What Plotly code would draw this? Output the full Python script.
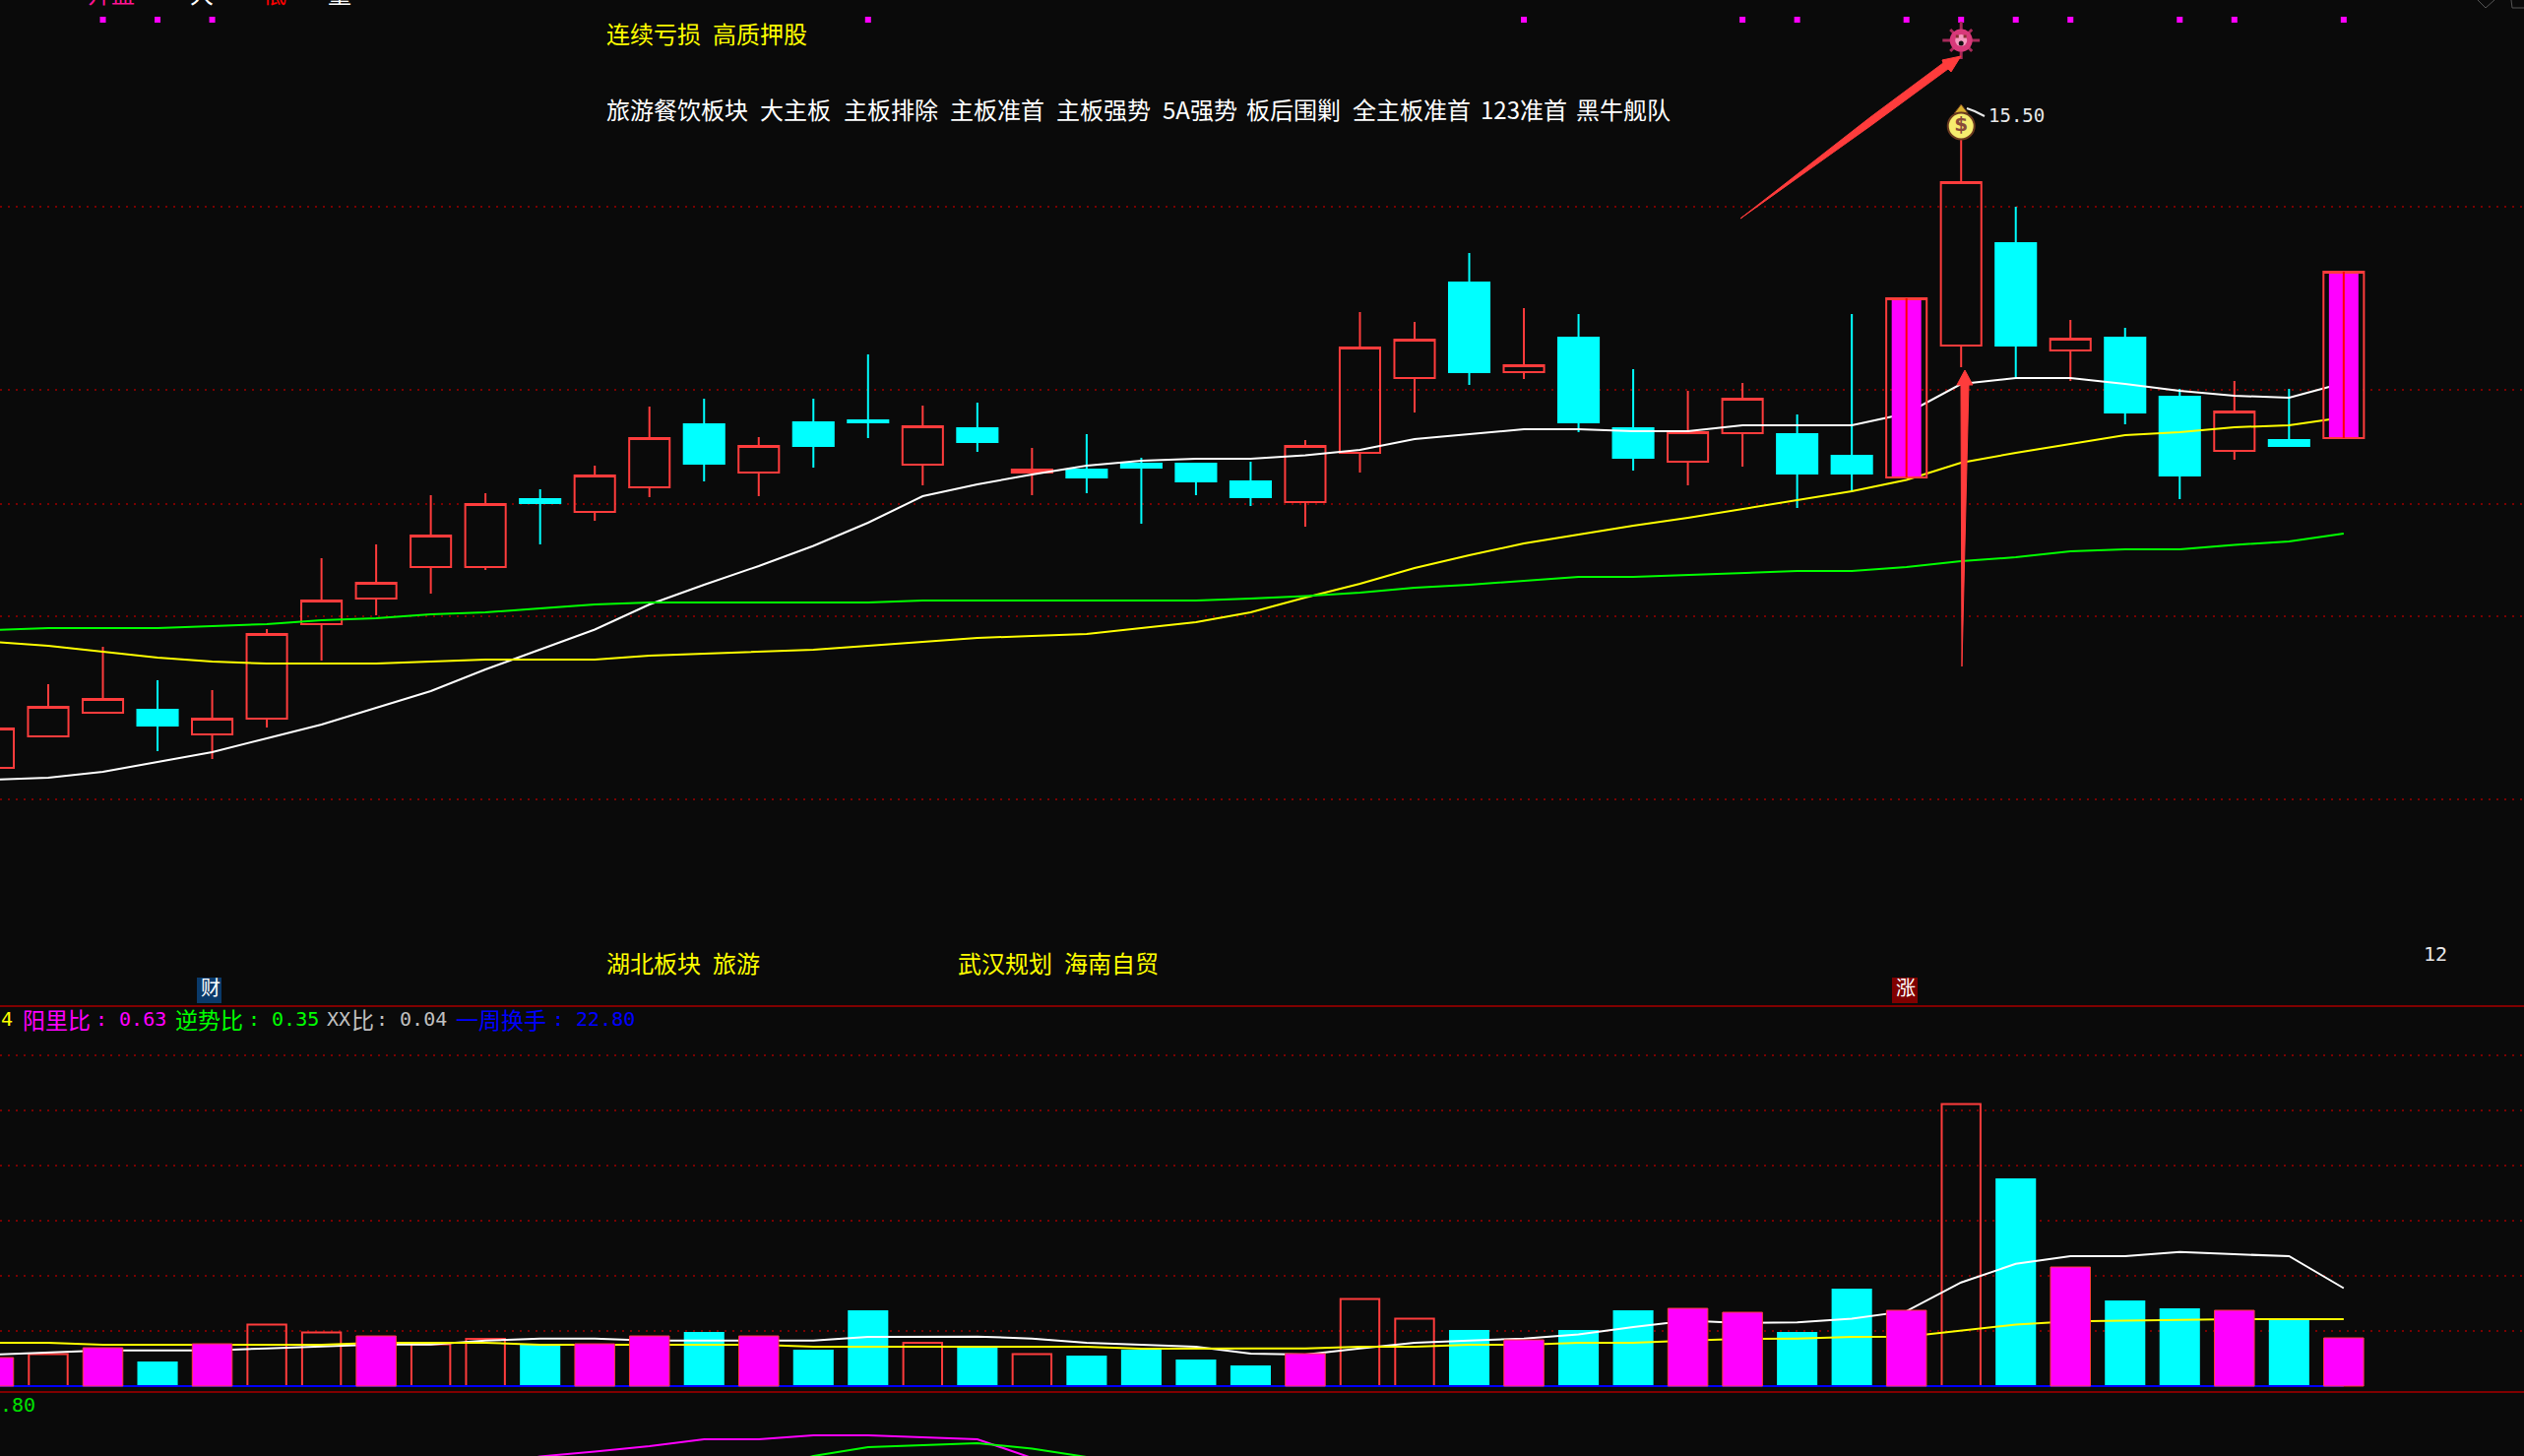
import plotly.graph_objects as go

W, H = 2564, 1479

# ---- data ----
days = list(range(-1, 43))
opens = [9.10,9.42,9.66,9.69,9.44,9.60,10.56,10.82,11.14,11.14,11.83,11.70,11.95,12.59,12.10,12.61,12.63,12.18,12.55,12.10,12.13,12.19,12.19,12.01,11.80,12.30,13.06,14.03,13.12,13.47,12.55,12.21,12.50,12.49,12.27,12.05,13.39,14.43,13.34,13.47,12.87,12.32,12.43,12.45]
highs = [9.50,9.95,10.33,9.99,9.89,10.51,11.23,11.37,11.87,11.89,11.93,12.17,12.77,12.85,12.46,12.85,13.30,12.78,12.81,12.35,12.49,12.25,12.19,12.21,12.43,13.73,13.63,14.33,13.77,13.71,13.15,12.93,13.01,12.69,13.71,13.87,15.50,14.80,13.65,13.57,12.95,13.03,12.95,14.14]
lows = [9.10,9.42,9.66,9.27,9.19,9.51,10.19,10.65,10.87,11.11,11.37,11.61,11.85,12.01,11.86,12.15,12.45,11.97,12.31,11.87,11.89,11.58,11.87,11.76,11.55,12.10,12.71,12.99,13.05,12.51,12.12,11.97,12.16,11.74,11.90,12.05,13.17,13.07,13.03,12.59,11.83,12.23,12.37,12.45]
closes = [9.50,9.72,9.80,9.53,9.60,10.46,10.80,10.98,11.46,11.78,11.79,12.07,12.45,12.19,12.37,12.37,12.61,12.57,12.41,12.13,12.05,12.15,12.01,11.85,12.37,13.37,13.45,13.12,13.19,12.61,12.25,12.51,12.85,12.09,12.09,13.87,15.05,13.39,13.46,12.71,12.07,12.72,12.37,14.14]
limit_up_days = [34, 42]

ma_white = [8.98,9.00,9.06,9.16,9.26,9.40,9.54,9.71,9.88,10.10,10.30,10.505,10.76,10.96,11.15,11.355,11.59,11.86,11.98,12.08,12.17,12.22,12.24,12.24,12.275,12.33,12.44,12.49,12.54,12.54,12.52,12.52,12.58,12.58,12.58,12.70,13.00,13.06,13.06,13.00,12.93,12.88,12.86,13.01]
ma_yellow = [10.38,10.34,10.28,10.22,10.18,10.16,10.16,10.16,10.18,10.20,10.20,10.20,10.24,10.26,10.28,10.30,10.34,10.38,10.42,10.44,10.46,10.52,10.58,10.68,10.83,10.97,11.13,11.26,11.38,11.47,11.56,11.64,11.73,11.82,11.91,12.025,12.20,12.30,12.39,12.48,12.51,12.56,12.58,12.66]
ma_green = [10.50,10.52,10.52,10.52,10.54,10.56,10.60,10.62,10.66,10.68,10.72,10.76,10.78,10.78,10.78,10.78,10.78,10.80,10.80,10.80,10.80,10.80,10.80,10.82,10.845,10.88,10.93,10.96,11.00,11.04,11.04,11.06,11.08,11.10,11.10,11.14,11.20,11.24,11.30,11.32,11.32,11.365,11.40,11.48]

volume = [2.9,3.25,3.9,2.5,4.3,6.24,5.45,5.1,4.24,4.8,4.2,4.3,5.1,5.5,5.1,3.7,7.7,4.4,4.0,3.25,3.1,3.7,2.7,2.1,3.3,8.85,6.85,5.7,4.7,5.7,7.7,7.9,7.5,5.5,9.9,7.7,28.65,21.1,12.1,8.7,7.9,7.7,6.8,4.9]
volume_style = ["m","h","m","c","m","h","h","m","h","h","c","m","m","c","m","c","c","h","c","h","c","c","c","c","m","h","h","c","m","c","c","m","m","c","c","m","h","c","m","c","c","m","c","m"]
vol_white = [3.21,3.42,3.62,3.62,3.62,3.83,4.02,4.23,4.23,4.62,4.83,4.83,4.62,4.62,4.62,4.62,5.0,5.03,5.03,4.83,4.41,4.21,4.00,3.3,3.2,3.83,4.41,4.62,4.83,5.24,6.0,6.65,6.41,6.48,6.85,7.61,10.53,12.42,13.21,13.21,13.63,13.39,13.21,9.95]
vol_yellow = [4.41,4.41,4.21,4.21,4.21,4.21,4.21,4.41,4.41,4.41,4.21,4.21,4.21,4.21,4.21,4.00,4.00,4.00,4.00,4.00,4.00,3.80,3.80,3.80,3.83,4.00,4.00,4.21,4.21,4.41,4.41,4.62,4.79,4.83,4.99,5.03,5.62,6.24,6.58,6.65,6.79,6.79,6.79,6.79]

low_days_magenta = [8,9,10,11,12,13,14,15,16,17,18]
low_magenta = [-10,-0.5,4.6,10,17,17,21,21,19,17,-2]
low_days_green = [13,14,15,16,17,18,19]
low_green = [-15,0,9,11,13,7.5,-1]

signal_days = [1,2,3,15,27,31,32,34,35,36,37,39,40,42]
grid_main = [14.80,12.94,11.78,10.64,8.78]
grid_vol = [5.6,11.2,16.8,22.4,28.0,33.6]

BG = "#0a0a0a"
RED = "#ff3c3c"
CYAN = "#00ffff"
MAGENTA = "#ff00ff"
GRID = "#7a0000"


def fx(px):
    return px / W


def fy(py):
    return 1 - py / H


X_RANGE = [(0 - 49) / 55.52, (W - 49) / 55.52]


def pick(a, idx):
    return [a[i] for i in idx]


def only(a, keep):
    return [v if d in keep else None for d, v in zip(days, a)]


fig = go.Figure()

normal_days = [d for d in days if d not in limit_up_days]
limit = [i for i, d in enumerate(days) if d in limit_up_days]

fig.add_trace(go.Candlestick(
    x=days, open=only(opens, normal_days), high=only(highs, normal_days),
    low=only(lows, normal_days), close=only(closes, normal_days),
    increasing=dict(line=dict(color=RED, width=2), fillcolor="rgba(0,0,0,0)"),
    decreasing=dict(line=dict(color=CYAN, width=2), fillcolor=CYAN),
    whiskerwidth=0, xaxis="x", yaxis="y", showlegend=False))
for arr, col in ((ma_white, "#ffffff"), (ma_yellow, "#ffff00"), (ma_green, "#00ff00")):
    fig.add_trace(go.Scatter(x=days, y=arr, mode="lines", line=dict(color=col, width=2), xaxis="x", yaxis="y", showlegend=False))

# limit-up candles sit above the lines, on an overlaid axis
fig.add_trace(go.Bar(x=pick(days, limit), y=[closes[i] - opens[i] for i in limit], base=pick(opens, limit),
                     width=0.54, marker=dict(color=MAGENTA, line=dict(width=0)), xaxis="x4", yaxis="y4", showlegend=False))
fig.add_trace(go.Candlestick(
    x=days, open=only(opens, limit_up_days), high=only(highs, limit_up_days),
    low=only(lows, limit_up_days), close=only(closes, limit_up_days),
    increasing=dict(line=dict(color=RED, width=2), fillcolor="rgba(0,0,0,0)"),
    decreasing=dict(line=dict(color=RED, width=2), fillcolor="rgba(0,0,0,0)"),
    whiskerwidth=0, xaxis="x4", yaxis="y4", showlegend=False))
stem_x, stem_y = [], []
for i in limit:
    stem_x += [days[i], days[i], None]
    stem_y += [opens[i], closes[i], None]
fig.add_trace(go.Scatter(x=stem_x, y=stem_y, mode="lines", line=dict(color="#ff0000", width=2),
                         xaxis="x4", yaxis="y4", showlegend=False))

# signal squares at the top of the pane
fig.add_trace(go.Scatter(x=signal_days, y=[16.70] * len(signal_days), mode="markers",
                         marker=dict(symbol="square", size=6, color=MAGENTA, line=dict(width=0)),
                         xaxis="x", yaxis="y", showlegend=False))

# icons above the tallest candle
def icon(y, symbol, size, color, line_color=None, line_w=0, dx=0.0):
    fig.add_trace(go.Scatter(x=[35 + dx], y=[y], mode="markers",
                             marker=dict(symbol=symbol, size=size, color=color,
                                         line=dict(width=line_w, color=line_color or color)),
                             xaxis="x4", yaxis="y4", showlegend=False))


icon(16.49, "cross-thin", 27, "#a82a5a", "#a82a5a", 3)
icon(16.49, "x-thin", 22, "#a82a5a", "#a82a5a", 3)
icon(16.49, "circle", 23, "#d8397a")
icon(16.49, "circle", 12, "#f59ac0")
icon(16.46, "circle", 5, "#101010")
icon(16.53, "square", 3, "#8a3030", dx=-0.07)
icon(16.53, "square", 3, "#8a3030", dx=0.07)
icon(15.78, "triangle-up", 12, "#d8b030", "#6b3a20", 1)
fig.add_trace(go.Scatter(x=[35], y=[15.62], mode="markers+text", text=["<b>$</b>"], textposition="middle center",
                         textfont=dict(color="#8a4a3a", size=20, family="DejaVu Sans"),
                         marker=dict(symbol="circle", size=27, color="#f6ec6e", line=dict(width=2, color="#6b3a20")),
                         xaxis="x4", yaxis="y4", showlegend=False))

# volume pane
def bars(style):
    idx = [i for i, s in enumerate(volume_style) if s == style]
    return pick(days, idx), pick(volume, idx)


x_h, y_h = bars("h")
fig.add_trace(go.Bar(x=x_h, y=y_h, width=0.71, marker=dict(color="rgba(0,0,0,0)", line=dict(color=RED, width=2)),
                     xaxis="x2", yaxis="y2", showlegend=False))
x_c, y_c = bars("c")
fig.add_trace(go.Bar(x=x_c, y=y_c, width=0.74, marker=dict(color=CYAN, line=dict(width=0)),
                     xaxis="x2", yaxis="y2", showlegend=False))
fig.add_trace(go.Scatter(x=days, y=vol_white, mode="lines", line=dict(color="#ffffff", width=2), xaxis="x2", yaxis="y2", showlegend=False))
fig.add_trace(go.Scatter(x=days, y=vol_yellow, mode="lines", line=dict(color="#ffff00", width=2), xaxis="x2", yaxis="y2", showlegend=False))
fig.add_trace(go.Scatter(x=days, y=[0] * len(days), mode="lines", line=dict(color="#0000ff", width=2), xaxis="x2", yaxis="y2", showlegend=False))
x_m, y_m = bars("m")
fig.add_trace(go.Bar(x=x_m, y=y_m, width=0.73, marker=dict(color=MAGENTA, line=dict(color=RED, width=1)),
                     xaxis="x5", yaxis="y5", showlegend=False))

# lower indicator pane
fig.add_trace(go.Scatter(x=low_days_magenta, y=low_magenta, mode="lines", line=dict(color=MAGENTA, width=2), xaxis="x3", yaxis="y3", showlegend=False))
fig.add_trace(go.Scatter(x=low_days_green, y=low_green, mode="lines", line=dict(color="#00ff00", width=2), xaxis="x3", yaxis="y3", showlegend=False))

texts = []


def label(px, py, s, color, size=24, family="Noto Sans CJK SC", **kw):
    texts.append(dict(xref="paper", yref="paper", x=fx(px), y=fy(py), text=s, showarrow=False,
                      xanchor="left", yanchor="middle", borderpad=0,
                      font=dict(color=color, size=size, family=family), **kw))


MONO = "DejaVu Sans Mono"
label(615, 34, "连续亏损", "#ffff00")
label(723, 34, "高质押股", "#ffff00")
for px, s in ((615, "旅游餐饮板块"), (771, "大主板"), (856, "主板排除"), (964, "主板准首"), (1072, "主板强势"),
              (1180, "5A强势"), (1265, "板后围剿"), (1373, "全主板准首"), (1503, "123准首"), (1600, "黑牛舰队")):
    label(px, 110, s, "#ffffff")
label(615, 977, "湖北板块", "#ffff00")
label(723, 977, "旅游", "#ffff00")
label(972, 977, "武汉规划", "#ffff00")
label(1080, 977, "海南自贸", "#ffff00")
label(2019, 117, "15.50", "#e8e8e8", 19, MONO)
label(2461, 969, "12", "#e8e8e8", 20, MONO)
label(0, 1035, "4", "#ffff00", 20, MONO)
label(22, 1035, "阳里比", MAGENTA, 23)
label(96, 1035, ": 0.63", MAGENTA, 20, MONO)
label(177, 1035, "逆势比", "#00ff00", 23)
label(251, 1035, ": 0.35", "#00ff00", 20, MONO)
label(331, 1035, "XX", "#c0c0c0", 20, MONO)
label(356, 1035, "比", "#c0c0c0", 23)
label(381, 1035, ": 0.04", "#c0c0c0", 20, MONO)
label(462, 1035, "一周换手", "#0000ff", 23)
label(560, 1035, ": 22.80", "#0000ff", 20, MONO)
label(-1, 1427, ".80", "#00e000", 20, MONO)
label(203, 1003, "财", "#ffffff", 20)
label(1925, 1003, "涨", "#ffffff", 20)
# header row, only the feet of the letters are inside the window
label(88, -8, "开盘", "#ff1493")
label(192, -8, "大", "#ffffff")
label(266, -8, "低", "#ff0000")
label(332, -8, "量", "#ffffff")


def path(points, **kw):
    d = "M" + " L".join(f"{fx(p[0]):.5f},{fy(p[1]):.5f}" for p in points)
    if kw.pop("closed", False):
        d += " Z"
    return dict(type="path", xref="paper", yref="paper", path=d, **kw)


def box(x0, x1, y0, y1, color):
    return dict(type="rect", xref="paper", yref="paper", layer="below", x0=fx(x0), x1=fx(x1), y0=fy(y1), y1=fy(y0),
                fillcolor=color, line=dict(width=0))


shapes = [
    # pane separators
    dict(type="line", xref="paper", yref="paper", x0=0, x1=1, y0=fy(1022), y1=fy(1022), line=dict(color="#800000", width=2)),
    dict(type="line", xref="paper", yref="paper", x0=0, x1=1, y0=fy(1414), y1=fy(1414), line=dict(color="#800000", width=2)),
    # badge backgrounds
    box(200, 225, 993, 1019, "#0a3a6a"),
    box(1922, 1948, 993, 1019, "#800000"),
    # diagonal hand-drawn arrow
    path([(1768, 222), (1900, 119), (1974, 64), (1973, 61), (1992, 57), (1982, 73), (1979, 70), (1900, 128)], closed=True,
         fillcolor="#ff3c3c", line=dict(color="#ff3c3c", width=1)),
    # vertical hand-drawn arrow
    path([(1993, 677), (1992, 391), (1988, 391), (1996, 376), (2004, 391), (2000, 391)], closed=True,
         fillcolor="#ff3c3c", line=dict(color="#ff3c3c", width=1)),
    # small white flick beside the money bag
    path([(1998, 110), (2006, 113), (2016, 118)], line=dict(color="#e8e8e8", width=2)),
    # window corner glyphs
    path([(2517, 0), (2525, 8), (2534, 0)], line=dict(color="#555555", width=1)),
    path([(2551, 0), (2552, 8), (2564, 8)], line=dict(color="#555555", width=1)),
]

axis = dict(showgrid=False, zeroline=False, showticklabels=False, ticks="", showline=False, fixedrange=True)
xaxis_common = dict(axis, range=X_RANGE, rangeslider=dict(visible=False), type="linear")
main_range = [16.90 - 1020 / 100, 16.90]
vol_range = [-0.6, 38.4]
grid = dict(showgrid=True, gridcolor=GRID, gridwidth=2, griddash="2px,6px")

fig.update_layout(
    width=W, height=H, margin=dict(l=0, r=0, t=0, b=0, pad=0),
    paper_bgcolor=BG, plot_bgcolor=BG, showlegend=False, boxgap=0.26, boxgroupgap=0, boxmode="overlay", barmode="overlay",
    xaxis=dict(xaxis_common, domain=[0, 1], anchor="y"),
    yaxis=dict(axis, **grid, tickvals=grid_main, range=main_range, domain=[fy(1020), 1], anchor="x"),
    xaxis4=dict(xaxis_common, domain=[0, 1], anchor="y4", overlaying="x"),
    yaxis4=dict(axis, range=main_range, domain=[fy(1020), 1], anchor="x4", overlaying="y"),
    xaxis2=dict(xaxis_common, domain=[0, 1], anchor="y2"),
    yaxis2=dict(axis, **grid, tickvals=grid_vol, range=vol_range, domain=[fy(1414), fy(1024)], anchor="x2"),
    xaxis5=dict(xaxis_common, domain=[0, 1], anchor="y5", overlaying="x2"),
    yaxis5=dict(axis, range=vol_range, domain=[fy(1414), fy(1024)], anchor="x5", overlaying="y2"),
    xaxis3=dict(xaxis_common, domain=[0, 1], anchor="y3"),
    yaxis3=dict(axis, range=[0, 64], domain=[0, fy(1415)], anchor="x3"),
    annotations=texts, shapes=shapes, hovermode=False,
)

fig.write_html("out.html", config=dict(displayModeBar=False),
               post_script="document.body.style.margin='0';document.body.style.background='#0a0a0a';document.body.style.overflow='hidden';")
